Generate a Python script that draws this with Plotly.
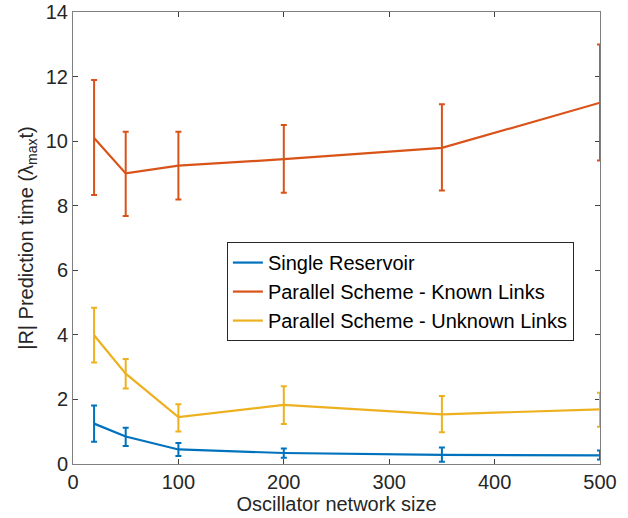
import plotly.graph_objects as go

sizes = [20, 50, 100, 200, 350, 500]

single_mean = [1.25, 0.85, 0.45, 0.34, 0.28, 0.27]
single_up = [1.81, 1.12, 0.65, 0.48, 0.51, 0.42]
single_lo = [0.69, 0.56, 0.25, 0.19, 0.07, 0.14]

known_mean = [10.1, 9.0, 9.24, 9.44, 9.79, 11.19]
known_up = [11.89, 10.29, 10.29, 10.5, 11.14, 12.99]
known_lo = [8.33, 7.68, 8.19, 8.40, 8.47, 9.40]

unknown_mean = [3.99, 2.80, 1.45, 1.83, 1.54, 1.69]
unknown_up = [4.84, 3.25, 1.85, 2.41, 2.11, 2.21]
unknown_lo = [3.14, 2.34, 1.01, 1.24, 0.98, 1.15]

series = [
    ("Single Reservoir", single_mean, single_up, single_lo, "#0072BD"),
    ("Parallel Scheme - Known Links", known_mean, known_up, known_lo, "#D95319"),
    ("Parallel Scheme - Unknown Links", unknown_mean, unknown_up, unknown_lo, "#EDB120"),
]

fig = go.Figure()
for name, m, up, lo, col in series:
    fig.add_trace(go.Scatter(
        x=sizes, y=m, mode="lines", name=name, cliponaxis=False,
        line=dict(color=col, width=2.2),
        error_y=dict(type="data", symmetric=False,
                     array=[u - v for u, v in zip(up, m)],
                     arrayminus=[v - l for v, l in zip(m, lo)],
                     color=col, thickness=2, width=3),
    ))

font_family = "Liberation Sans, Arial, Helvetica, sans-serif"
axis_common = dict(
    showline=True, linecolor="#808080", linewidth=1, mirror="ticks",
    ticks="inside", ticklen=5, tickcolor="#404040", tickwidth=1,
    showgrid=False, zeroline=False, layer="below traces", automargin=False,
    tickfont=dict(family=font_family, size=20, color="#262626"),
)

fig.update_layout(
    width=628, height=518,
    paper_bgcolor="white", plot_bgcolor="white",
    margin=dict(l=73, r=28, t=12, b=54),
    font=dict(family=font_family, size=20, color="#262626"),
    xaxis=dict(range=[0, 500], tickvals=[0, 100, 200, 300, 400, 500],
               title=dict(text="Oscillator network size", font=dict(size=20, color="#262626"), standoff=2),
               **axis_common),
    yaxis=dict(range=[0, 14], tickvals=[0, 2, 4, 6, 8, 10, 12, 14],
               title=dict(text="|R| Prediction time (λ<sub>max</sub>t)", font=dict(size=20, color="#262626"), standoff=6),
               **axis_common),
    legend=dict(x=0.292, y=0.491, xanchor="left", yanchor="top",
                bgcolor="white", bordercolor="#262626", borderwidth=1,
                font=dict(family=font_family, size=20, color="#000000"),
                itemwidth=30, tracegroupgap=0),
    showlegend=True,
)

fig.write_html("out.html")
